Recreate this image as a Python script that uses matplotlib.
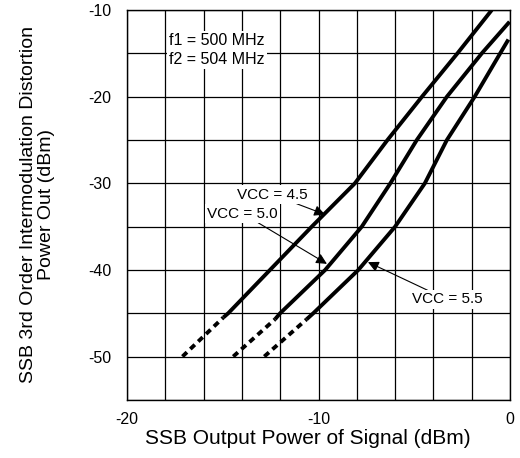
import numpy as np
import matplotlib.pyplot as plt
from matplotlib.ticker import MultipleLocator

plt.rcParams['font.family'] = ['Liberation Sans', 'DejaVu Sans']
plt.rcParams['axes.unicode_minus'] = False

# curves; first segment of each is the dashed part
vcc45_x = [-17.1, -14.97, -14.71, -12.53, -10.35, -8.1, -6.4, -4.6, -2.75, -0.96]
vcc45_y = [-50.0, -45.5, -45.0, -40.0, -35.0, -30.0, -25.0, -20.0, -15.0, -10.0]
vcc50_x = [-14.45, -12.27, -12.0, -9.65, -7.74, -6.25, -4.87, -3.3, -1.48, -0.03]
vcc50_y = [-50.0, -45.7, -45.0, -40.0, -35.0, -30.0, -25.0, -20.0, -15.0, -11.35]
vcc55_x = [-12.83, -10.62, -10.27, -7.92, -6.0, -4.45, -3.3, -1.85, -0.52, -0.09]
vcc55_y = [-50.0, -45.7, -45.0, -40.0, -35.0, -30.0, -25.0, -20.0, -15.0, -13.4]

x_ticks = [-20, -10, 0]
y_ticks = [-10, -20, -30, -40, -50]

fig = plt.figure(figsize=(5.2, 4.58), dpi=100)
ax = fig.add_axes([0.244, 0.127, 0.737, 0.851])

for xs, ys in [(vcc45_x, vcc45_y), (vcc50_x, vcc50_y), (vcc55_x, vcc55_y)]:
    ax.plot(xs[:2], ys[:2], color='black', lw=2.8, ls=(0, (1.6, 1.2)), solid_capstyle='butt')
    ax.plot(xs[1:], ys[1:], color='black', lw=2.8, solid_joinstyle='round', solid_capstyle='butt')

ax.set_xlim(-20, 0)
ax.set_ylim(-55, -10)
ax.set_xticks(x_ticks)
ax.set_yticks(y_ticks)
ax.xaxis.set_minor_locator(MultipleLocator(2))
ax.yaxis.set_minor_locator(MultipleLocator(5))
ax.grid(which='both', color='black', lw=0.9)
ax.tick_params(which='both', length=0, labelsize=11.5)
ax.tick_params(axis='x', pad=9)
ax.tick_params(axis='y', pad=11)
for s in ax.spines.values():
    s.set_linewidth(1.0)
ax.set_axisbelow(True)

ax.set_xlabel('SSB Output Power of Signal (dBm)', fontsize=15, labelpad=5)
ax.xaxis.set_label_coords(0.473, -0.075)
ax.set_ylabel('SSB 3rd Order Intermodulation Distortion\nPower Out (dBm)', fontsize=14,
              labelpad=24, multialignment='center', linespacing=1.1)

box = dict(facecolor='white', edgecolor='none', pad=1.5)
ax.text(-15.3, -14.6, 'f1 = 500 MHz\nf2 = 504 MHz', fontsize=11.5, ha='center', va='center',
        linespacing=1.3, bbox=box)

arrow = dict(arrowstyle='-|>', color='black', lw=0.8, mutation_scale=16, shrinkA=0, shrinkB=0)
ax.annotate('VCC = 4.5', xy=(-9.66, -33.6), xytext=(-12.4, -31.3), fontsize=11,
            ha='center', va='center', bbox=box, arrowprops=arrow)
ax.annotate('VCC = 5.0', xy=(-9.56, -39.3), xytext=(-13.95, -33.5), fontsize=11,
            ha='center', va='center', bbox=box, arrowprops=arrow)
ax.annotate('VCC = 5.5', xy=(-7.42, -39.1), xytext=(-3.3, -43.4), fontsize=11,
            ha='center', va='center', bbox=box, arrowprops=arrow)

fig.savefig('out.png', dpi=100)
